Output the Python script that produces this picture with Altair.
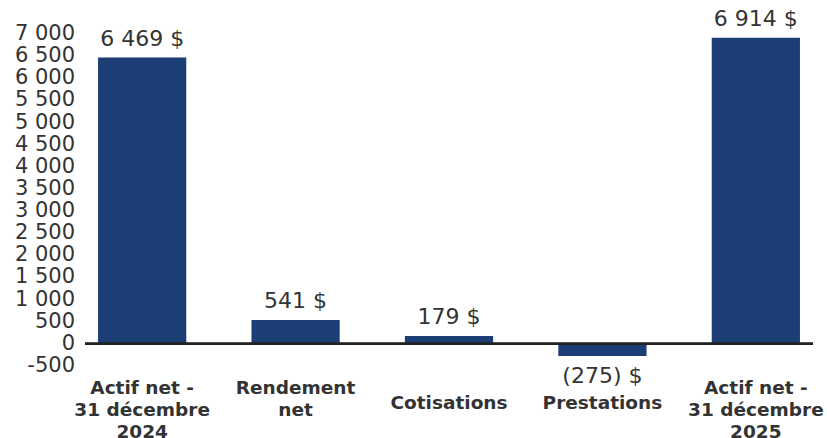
import altair as alt
import pandas as pd

# Variation de l'actif net (en millions de dollars)
categories = [
    "Actif net -\n31 décembre\n2024",
    "Rendement\nnet",
    "Cotisations",
    "Prestations",
    "Actif net -\n31 décembre\n2025",
]
values = [6469, 541, 179, -275, 6914]
y_ticks = list(range(-500, 7001, 500))


def fmt_dollars(v):
    txt = f"{abs(v):,}".replace(",", " ")
    return f"({txt}) $" if v < 0 else f"{txt} $"


df = pd.DataFrame({
    "cat": categories,
    "val": values,
    "label": [fmt_dollars(v) for v in values],
    "multi": [("\n" in c) for c in categories],
})
ticks = pd.DataFrame({
    "tick": y_ticks,
    "tick_label": [f"{t:,}".replace(",", " ") for t in y_ticks],
})

FONT = "DejaVu Sans"
BAR = "#1b3e74"
TEXT = "#333333"

x = alt.X("cat:N", sort=None, axis=None,
          scale=alt.Scale(paddingInner=0.425, paddingOuter=0.085))
y_scale = alt.Scale(domain=[-500, 7000], nice=False, zero=False)
y = alt.Y("val:Q", scale=y_scale, axis=None)

base = alt.Chart(df)

bars = base.mark_bar(color=BAR).encode(x=x, y=y)

# ligne du zéro sur toute la largeur
zero = base.mark_rule(color="#222222", strokeWidth=2).encode(
    y=alt.Y(datum=0, scale=y_scale, axis=None)
)

# étiquettes de l'axe vertical, placées par l'échelle y
tick_labels = alt.Chart(ticks).mark_text(
    align="right", baseline="middle", font=FONT, fontSize=21, color=TEXT
).encode(
    x=alt.value(-10),
    y=alt.Y("tick:Q", scale=y_scale, axis=None),
    text="tick_label:N",
)

pos_labels = base.transform_filter("datum.val >= 0").mark_text(
    baseline="bottom", dy=-7, font=FONT, fontSize=22, color=TEXT
).encode(x=x, y=y, text="label:N")

neg_labels = base.transform_filter("datum.val < 0").mark_text(
    baseline="top", dy=10, font=FONT, fontSize=22, color=TEXT
).encode(x=x, y=y, text="label:N")


def category_labels(test, top):
    return base.transform_filter(test).mark_text(
        baseline="top", lineBreak="\n", lineHeight=22, font=FONT,
        fontSize=18.5, fontWeight="bold", color=TEXT
    ).encode(x=x, y=alt.value(top), text="cat:N")


cat_multi = category_labels("datum.multi", 345)
cat_single = category_labels("!datum.multi", 360)

chart = alt.layer(
    bars, zero, tick_labels, pos_labels, neg_labels, cat_multi, cat_single
).properties(
    width=728, height=332,
    padding={"left": 85, "top": 34, "right": 14, "bottom": 72},
    autosize=alt.AutoSizeParams(type="none"),
).configure(background="white").configure_view(strokeWidth=0)

chart.save("out.html", embed_options={"renderer": "svg", "actions": False})
